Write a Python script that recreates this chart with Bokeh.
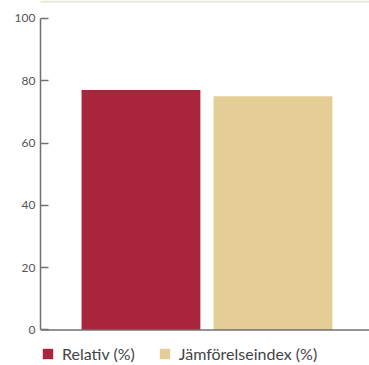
from bokeh.plotting import figure
from bokeh.models import ColumnDataSource, Range1d, Legend, LegendItem, FixedTicker, BoxAnnotation, Span
from bokeh.embed import file_html
from bokeh.resources import INLINE

series = ["Relativ (%)", "Jämförelseindex (%)"]
values = [77, 75]
colors = ["#A8253C", "#E5CE96"]
y_ticks = [0, 20, 40, 60, 80, 100]

xs = [i + 1 for i in range(len(series))]

p = figure(width=369, height=365, output_backend="svg", toolbar_location=None,
           x_range=Range1d(0.239, 2.731), y_range=Range1d(-11.4, 105.77),
           min_border_left=40, min_border_right=0, min_border_top=0, min_border_bottom=0)
p.outline_line_color = None
p.grid.visible = False
p.background_fill_color = "white"
p.border_fill_color = "white"
p.xaxis.visible = False

items = []
for x, v, c, s in zip(xs, values, colors, series):
    src = ColumnDataSource(dict(x=[x], top=[v]))
    r = p.vbar(x="x", top="top", width=0.9, bottom=0, source=src, fill_color=c, line_color=None)
    items.append(LegendItem(label=s, renderers=[r]))

# baseline (x axis line)
p.add_layout(Span(location=0, dimension="width", line_color="#707070", line_width=1.5))

# y axis
ya = p.yaxis[0]
ya.ticker = FixedTicker(ticks=y_ticks)
ya.bounds = (0, 100)
ya.minor_tick_line_color = None
ya.major_tick_in = 8
ya.major_tick_out = 0
ya.major_tick_line_color = "#707070"
ya.major_tick_line_width = 1.5
ya.axis_line_color = "#707070"
ya.axis_line_width = 1.5
ya.major_label_text_font = "Lato"
ya.major_label_text_font_size = "12px"
ya.major_label_text_color = "#555555"
ya.major_label_standoff = 5

legend = Legend(items=items, orientation="horizontal", location=(1, 2))
legend.border_line_color = None
legend.background_fill_alpha = 0
legend.margin = 0
legend.padding = 0
legend.glyph_width = 13
legend.glyph_height = 13
legend.label_standoff = 8
legend.spacing = 23
legend.label_text_font = "Lato"
legend.label_text_font_size = "16px"
legend.label_text_color = "#444444"
legend.label_height = 13
p.add_layout(legend, "center")

top_line = BoxAnnotation(left=-27, right=329, bottom=363, top=365,
                         left_units="screen", right_units="screen",
                         top_units="screen", bottom_units="screen",
                         fill_color="#E8E5D6", fill_alpha=1, line_color=None)
p.add_layout(top_line)

open("out.html", "w").write(file_html(p, INLINE))
